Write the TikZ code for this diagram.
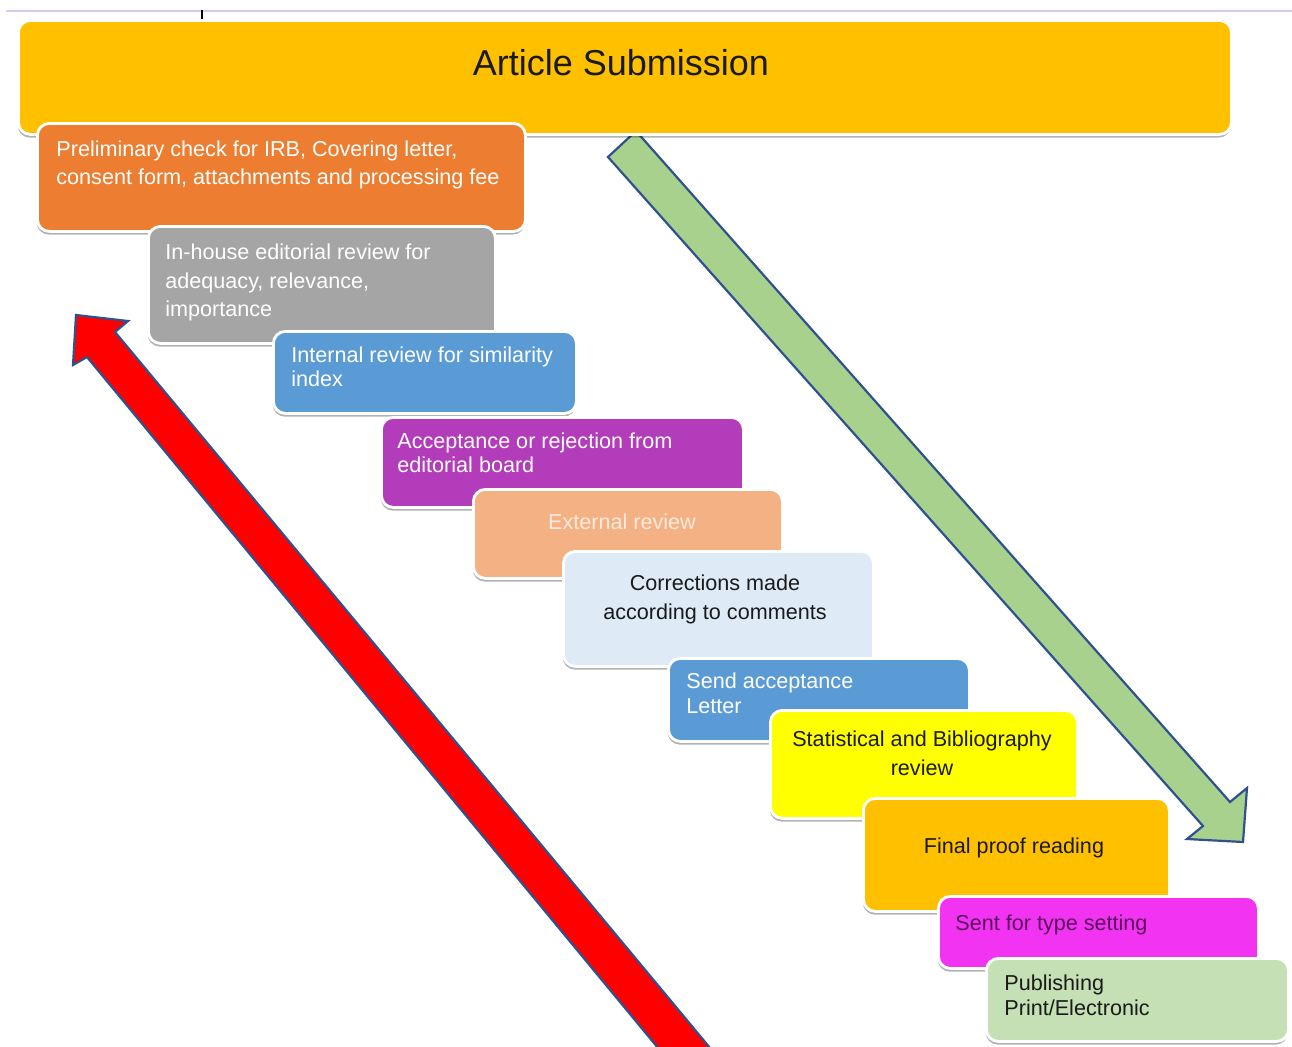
\documentclass[tikz,border=0pt]{standalone}
\usepackage{fontspec}
\setmainfont{Liberation Sans}
\usetikzlibrary{shadows}
\definecolor{cTop}{HTML}{FFC000}
\definecolor{cOrange}{HTML}{ED7D31}
\definecolor{cGray}{HTML}{A5A5A5}
\definecolor{cBlue}{HTML}{5B9BD5}
\definecolor{cPurple}{HTML}{B23CB9}
\definecolor{cPeach}{HTML}{F4B183}
\definecolor{cPeachTxt}{HTML}{FCEBDD}
\definecolor{cIce}{HTML}{DEEBF7}
\definecolor{cYellow}{HTML}{FFFF00}
\definecolor{cMagenta}{HTML}{F234F2}
\definecolor{cMagTxt}{HTML}{5A0F5E}
\definecolor{cMint}{HTML}{C5E0B4}
\definecolor{cArrowGreen}{HTML}{A9D18E}
\definecolor{cArrowEdge}{HTML}{2F528F}
\definecolor{cRule}{HTML}{DCC8EC}
\definecolor{cInk}{HTML}{1A1A1A}
\begin{document}
\begin{tikzpicture}[x=0.5pt,y=-0.5pt,
  box/.style={draw=white, line width=1.4pt, rounded corners=6pt, anchor=north west,
    drop shadow={shadow xshift=-0.3pt, shadow yshift=-1.6pt, opacity=0.3, fill=black}},
  txt/.style={inner sep=0pt, font=\fontsize{10.8}{#1}\selectfont},
  txt/.default=14,
  blockarrow/.style={draw=cArrowEdge, line width=1.1pt, line join=miter}]
\useasboundingbox (0,0) rectangle (1292,1046);
\fill[white] (0,0) rectangle (1292,1046);
% top rule and tick
\coordinate (ruleL) at (6,11);
\coordinate (ruleR) at (1292,11);
\draw[cRule, line width=0.6pt] (ruleL) -- (ruleR);
\coordinate (tickT) at (202,10);
\coordinate (tickB) at (202,21);
\draw[black, line width=1.1pt] (tickT) -- (tickB);
% green arrow (downwards)
\draw[blockarrow, fill=cArrowGreen]
  (608,157) -- (636,131) -- (1230,802) -- (1247,788) -- (1243,842)
  -- (1187,839) -- (1203,826) -- cycle;
% red arrow (upwards)
\begin{scope}
\clip (0,0) rectangle (1292,1046);
\draw[blockarrow, fill=red]
  (76,315) -- (128,321) -- (115,332) -- (720,1060) -- (668,1060)
  -- (87,357) -- (73,365) -- cycle;
\end{scope}
% top box
\node[box, fill=cTop, minimum width=606.5pt, minimum height=57pt] (b0) at (17,19) {};
\node[font=\fontsize{18}{20}\selectfont, text=cInk, inner sep=0pt] (t0) at (621,63) {Article Submission};
% step boxes
\node[box, fill=cOrange, minimum width=244pt, minimum height=54pt] (b1) at (36,122) {};
\node[txt, text=white, align=left, anchor=north west] (t1) at (56,140.5)
  {Preliminary check for IRB, Covering letter,\\consent form, attachments and processing fee};
\node[box, fill=cGray, minimum width=173.5pt, minimum height=58.5pt] (b2) at (147,225) {};
\node[txt=14.25, text=white, align=left, anchor=north west] (t2) at (165,243.5)
  {In-house editorial review for\\adequacy, relevance,\\importance};
\node[box, fill=cBlue, minimum width=151.5pt, minimum height=41pt] (b3) at (272,330) {};
\node[txt=12, text=white, align=left, anchor=north west] (t3) at (291,346.5)
  {Internal review for similarity\\index};
\node[box, fill=cPurple, minimum width=181pt, minimum height=45pt] (b4) at (380,416) {};
\node[txt=12, text=white, align=left, anchor=north west] (t4) at (397,432.5)
  {Acceptance or rejection from\\editorial board};
\node[box, fill=cPeach, minimum width=154.5pt, minimum height=44.5pt] (b5) at (472,488) {};
\node[txt, text=cPeachTxt, anchor=north] (t5) at (622,513.5) {External review};
\node[box, fill=cIce, minimum width=155pt, minimum height=57.5pt] (b6) at (562,550) {};
\node[txt=14.5, text=cInk, align=center, anchor=north] (t6) at (715,574.5)
  {Corrections made\\according to comments};
\node[box, fill=cBlue, minimum width=150.5pt, minimum height=41.5pt] (b7) at (667,657) {};
\node[txt=12.5, text=white, align=left, anchor=north west] (t7) at (686,672.5)
  {Send acceptance\\Letter};
\node[box, fill=cYellow, minimum width=153.5pt, minimum height=54pt] (b8) at (769,709) {};
\node[txt=14.5, text=cInk, align=center, anchor=north] (t8) at (922,730.5)
  {Statistical and Bibliography\\review};
\node[box, fill=cTop, minimum width=153pt, minimum height=56.5pt] (b9) at (862,797) {};
\node[txt, text=cInk, anchor=north] (t9) at (1014,837.5) {Final proof reading};
\node[box, fill=cMagenta, minimum width=160pt, minimum height=36pt] (b10) at (937,895) {};
\node[txt, text=cMagTxt, anchor=north west] (t10) at (955,914.5) {Sent for type setting};
\node[box, fill=cMint, minimum width=151pt, minimum height=41.5pt] (b11) at (985,957) {};
\node[txt=12.5, text=cInk, align=left, anchor=north west] (t11) at (1004,974.5)
  {Publishing\\Print/Electronic};
\end{tikzpicture}
\end{document}
